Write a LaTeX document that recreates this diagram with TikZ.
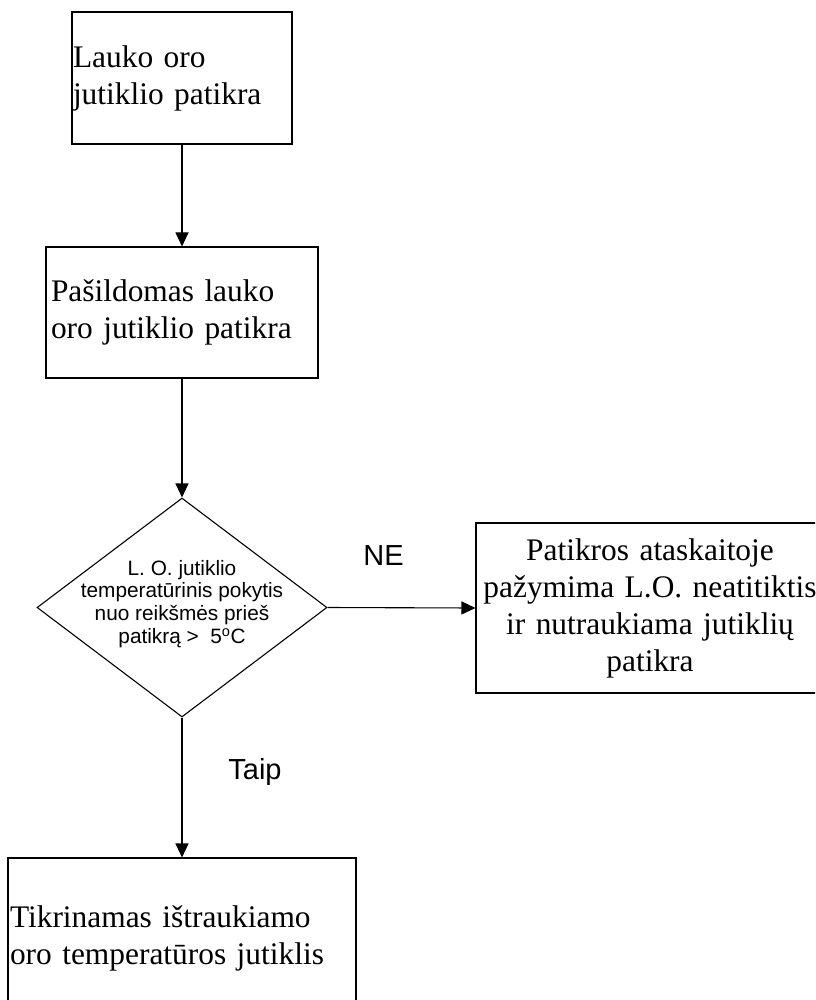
\documentclass[tikz,border=0pt]{standalone}
\usepackage{fontspec}
\setmainfont{Liberation Serif}
\newfontfamily\arialfont{Liberation Sans}
\usetikzlibrary{arrows.meta,shapes.geometric}

\tikzset{
  boxtext/.style={font=\fontsize{31.4}{37}\selectfont},
  stepbox/.style={draw, line width=1.1pt, rectangle, boxtext, inner ysep=0pt},
  decision/.style={draw, line width=1.1pt, diamond, inner sep=0pt},
  dectext/.style={font=\arialfont\fontsize{20.8}{22.8}\selectfont, align=center, inner sep=0pt},
  branch/.style={font=\arialfont\fontsize{29}{33}\selectfont, inner sep=0pt, anchor=base},
  flow/.style={draw, line width=1.1pt, -{Triangle[length=14pt,width=13pt]}}
}

\begin{document}
\begin{tikzpicture}[x=1pt, y=-1pt]
  \useasboundingbox (0,0) rectangle (815,1000);
  \clip (0,0) rectangle (815,1000);

  % process boxes (left aligned text)
  \node[stepbox, minimum width=220pt, minimum height=132pt, inner xsep=1pt,
        text width=218pt, align=left] (b1) at (182,78)
        {Lauko oro\\jutiklio patikra};
  \node[stepbox, minimum width=272pt, minimum height=131pt, inner xsep=5pt,
        text width=262pt, align=left] (b2) at (182,312.5)
        {Pašildomas lauko\\oro jutiklio patikra};

  % decision
  \node[decision, minimum width=290pt, minimum height=219pt] (dec) at (182,607.5) {};
  \node[dectext] (dect) at (182,604)
        {L. O. jutiklio\\temperatūrinis pokytis\\nuo reikšmės prieš\\patikrą >\ \ 5\textsuperscript{o}C};

  % outcome boxes
  \node[stepbox, minimum width=348pt, minimum height=170pt, inner xsep=2pt,
        text width=344pt, align=center] (fail) at (650,608)
        {Patikros ataskaitoje\\pažymima L.O. neatitiktis\\ir nutraukiama jutiklių\\patikra};
  \node[stepbox, minimum width=348pt, minimum height=161pt, inner xsep=2pt,
        text width=344pt, align=left] (b3) at (182,938.5)
        {Tikrinamas ištraukiamo\\oro temperatūros jutiklis};

  % connectors
  \draw[flow] (b1.south) -- (b2.north);
  \draw[flow] (b2.south) -- (dec.north);
  \draw[flow] (dec.east) -- (fail.west);
  \draw[flow] (dec.south) -- (b3.north);

  % branch labels
  \node[branch] (ne) at (383.5,565.7) {NE};
  \node[branch] (taip) at (255,779) {Taip};
\end{tikzpicture}
\end{document}
